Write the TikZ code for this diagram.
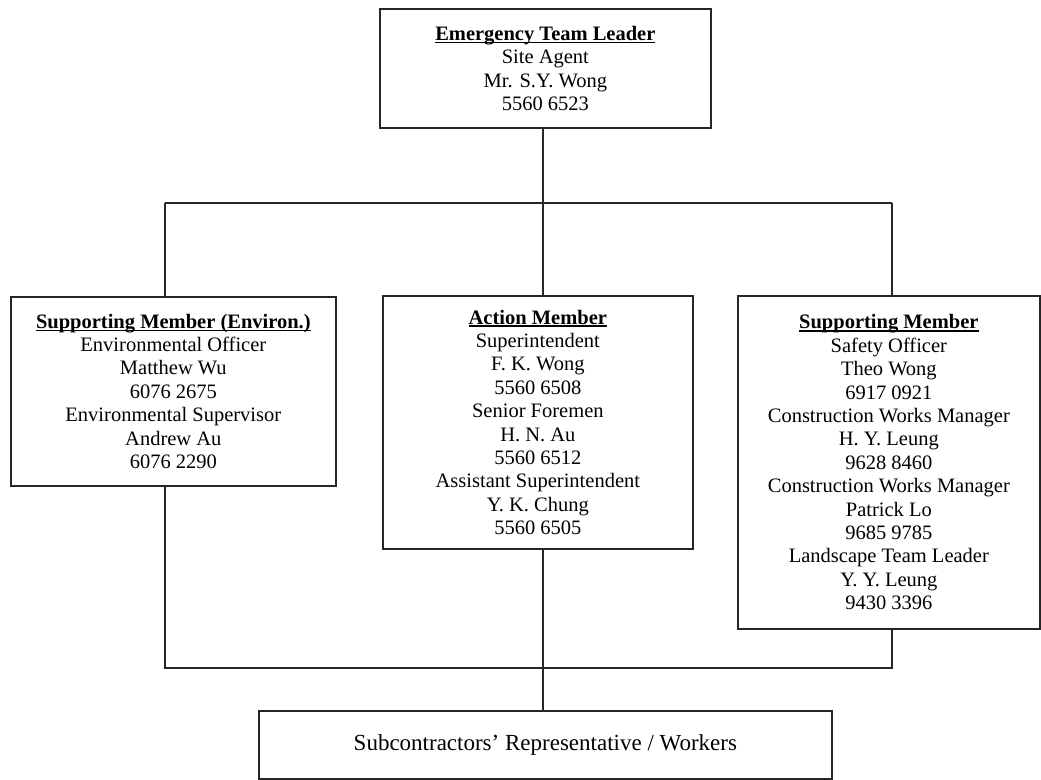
\documentclass[tikz,border=0pt]{standalone}
\usepackage{fontspec}
\setmainfont{Liberation Serif}
\newcommand{\hdr}[1]{\setbox0=\hbox{\bfseries #1}\rlap{\rule[-2.8pt]{\wd0}{1.4pt}}\box0}
\begin{document}
\begin{tikzpicture}[x=1pt,y=-1pt,
  orgbox/.style={draw=black!85, line width=1.7pt, rectangle, inner sep=0pt, align=center, anchor=north west, text=black,
    font=\fontsize{20.5}{23.4}\selectfont},
  link/.style={draw=black!85, line width=1.7pt}]
\useasboundingbox (0,0) rectangle (1041,779);
\node[orgbox, minimum width=331pt, minimum height=119pt] (top) at (379,8)
  {\hdr{Emergency Team Leader}\\ Site Agent\\ Mr. S.Y. Wong\\ 5560 6523};
\node[orgbox, minimum width=325pt, minimum height=189pt] (left) at (10,296)
  {\hdr{Supporting Member (Environ.)}\\ Environmental Officer\\ Matthew Wu\\ 6076 2675\\ Environmental Supervisor\\ Andrew Au\\ 6076 2290};
\node[orgbox, minimum width=310pt, minimum height=253pt] (mid) at (382,295)
  {\hdr{Action Member}\\ Superintendent\\ F. K. Wong\\ 5560 6508\\ Senior Foremen\\ H. N. Au\\ 5560 6512\\ Assistant Superintendent\\ Y. K. Chung\\ 5560 6505};
\node[orgbox, minimum width=302pt, minimum height=333pt] (right) at (737,295)
  {\hdr{Supporting Member}\\ Safety Officer\\ Theo Wong\\ 6917 0921\\ Construction Works Manager\\ H. Y. Leung\\ 9628 8460\\ Construction Works Manager\\ Patrick Lo\\ 9685 9785\\ Landscape Team Leader\\ Y. Y. Leung\\ 9430 3396};
\node[orgbox, minimum width=573pt, minimum height=68pt, font=\fontsize{23}{26}\selectfont] (bot) at (258,710)
  {Subcontractors’ Representative / Workers};
\coordinate (tl) at (165,203);
\coordinate (tr) at (892,203);
\coordinate (c1) at (543,203);
\coordinate (bl) at (165,668);
\coordinate (br) at (892,668);
\coordinate (c2) at (543,668);
\draw[link] (c1 |- top.south) -- (c1 |- mid.north);
\draw[link] (tl) -- (tr);
\draw[link] (tl) -- (tl |- left.north);
\draw[link] (tr) -- (tr |- right.north);
\draw[link] (tl |- left.south) -- (bl) -- (br) -- (br |- right.south);
\draw[link] (c2 |- mid.south) -- (c2 |- bot.north);
\end{tikzpicture}
\end{document}
